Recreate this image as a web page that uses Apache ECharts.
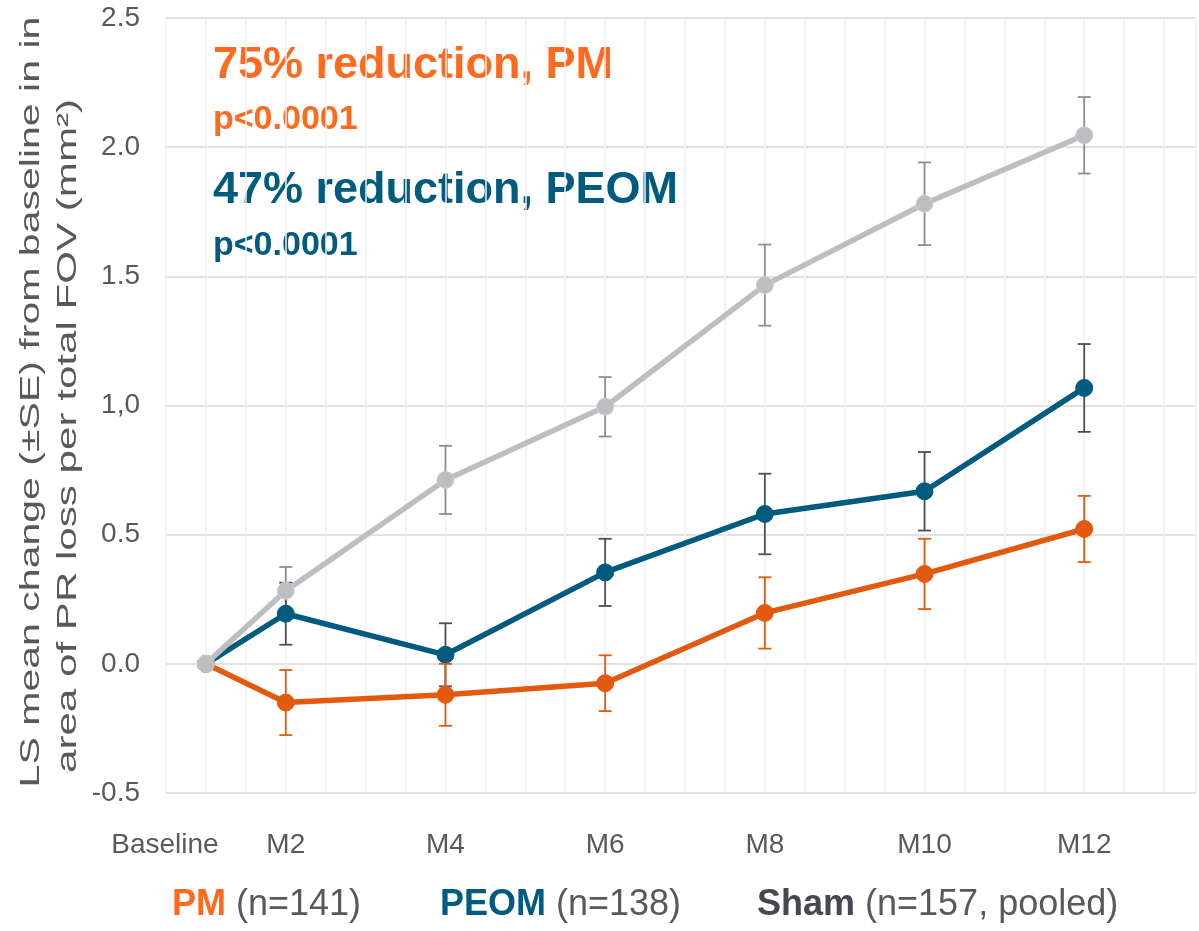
<!DOCTYPE html>
<html>
<head>
<meta charset="utf-8">
<script src="https://cdn.jsdelivr.net/npm/echarts@6/dist/echarts.min.js"></script>
<style>
  html, body { margin: 0; padding: 0; background: #fff; }
  #chart { width: 1199px; height: 931px; }
</style>
</head>
<body>
<div id="chart"></div>
<script>
// visits and where they sit on the x axis (baseline is one slot left of M2)
const visits = ['Baseline', 'M2', 'M4', 'M6', 'M8', 'M10', 'M12']
const visitSlot = [1, 2, 4, 6, 8, 10, 12]

// LS mean change and SE per group
const pmMean = [0, -0.15, -0.12, -0.075, 0.197, 0.348, 0.522]
const pmSE = [0, 0.126, 0.12, 0.108, 0.138, 0.136, 0.128]
const peomMean = [0, 0.194, 0.035, 0.354, 0.58, 0.668, 1.068]
const peomSE = [0, 0.12, 0.122, 0.13, 0.156, 0.152, 0.17]
const shamMean = [0, 0.283, 0.712, 0.995, 1.466, 1.781, 2.046]
const shamSE = [0, 0.092, 0.132, 0.115, 0.157, 0.16, 0.148]

const yTicks = { '-0.5': '-0.5', '0': '0.0', '0.5': '0.5', '1': '1,0', '1.5': '1.5', '2': '2.0', '2.5': '2.5' }

const ORANGE = '#e35a0e'
const ORANGE_TXT = '#ff6a1e'
const TEAL = '#005b7f'
const GREY = '#bcbec2'
const FONT = 'Liberation Sans, Arial, sans-serif'

function points(mean) {
  return visitSlot.map((x, i) => [x, mean[i]])
}

function errData(mean, se) {
  return visitSlot.map((x, i) => [x, mean[i] - se[i], mean[i] + se[i]]).slice(1)
}

function errSeries(mean, se, color, z) {
  return {
    type: 'custom',
    z: z,
    silent: true,
    data: errData(mean, se),
    renderItem(params, api) {
      const lo = api.coord([api.value(0), api.value(1)])
      const hi = api.coord([api.value(0), api.value(2)])
      const w = 6.5
      const style = { stroke: color, lineWidth: 1.8 }
      return {
        type: 'group',
        children: [
          { type: 'line', shape: { x1: hi[0], y1: hi[1], x2: lo[0], y2: lo[1] }, style },
          { type: 'line', shape: { x1: hi[0] - w, y1: hi[1], x2: hi[0] + w, y2: hi[1] }, style },
          { type: 'line', shape: { x1: lo[0] - w, y1: lo[1], x2: lo[0] + w, y2: lo[1] }, style }
        ]
      }
    }
  }
}

function lineSeries(name, mean, color, z, borderColor) {
  return {
    name: name,
    type: 'line',
    z: z,
    data: points(mean),
    symbol: 'circle',
    symbolSize: 17,
    lineStyle: { color: color, width: 5.5 },
    itemStyle: { color: color, borderColor: borderColor || color, borderWidth: 1 }
  }
}

function txt(x, y, text, fill, font) {
  return {
    type: 'text', x: x, y: y,
    style: { text: text, x: 0, y: 0, fill: fill, font: font, verticalAlign: 'middle' }
  }
}

function legendText(x, name, nText, nameColor) {
  return {
    type: 'text', x: x, y: 905,
    style: {
      text: '{a|' + name + '}{b| ' + nText + '}',
      verticalAlign: 'middle',
      rich: {
        a: { fill: nameColor, font: 'bold 36px ' + FONT },
        b: { fill: '#595959', font: '36px ' + FONT }
      }
    }
  }
}

const chart = echarts.init(document.getElementById('chart'))

const option = {
  animation: false,
  grid: { left: 166, right: 0, top: 18, bottom: 138 },
  xAxis: {
    type: 'value',
    min: 0.5,
    max: 13.4,
    interval: 0.5,
    axisLine: { show: false },
    axisTick: { show: false },
    splitLine: { show: true, lineStyle: { color: '#f0f0f0', width: 1.5 } },
    axisLabel: {
      margin: 38,
      color: '#595959',
      fontFamily: FONT,
      fontSize: 28,
      rich: {
        base: { color: '#595959', fontFamily: FONT, fontSize: 28, padding: [0, 82, 0, 0] }
      },
      formatter(v) {
        const i = visitSlot.indexOf(v)
        if (i < 0) return ''
        return i === 0 ? '{base|' + visits[0] + '}' : visits[i]
      }
    }
  },
  yAxis: {
    type: 'value',
    min: -0.5,
    max: 2.5,
    interval: 0.5,
    axisLine: { show: false },
    axisTick: { show: false },
    splitLine: { show: true, lineStyle: { color: '#e2e2e2', width: 2 } },
    axisLabel: {
      margin: 26,
      color: '#595959',
      fontFamily: FONT,
      fontSize: 28,
      formatter(v) {
        return yTicks[String(v)] || ''
      }
    }
  },
  series: [
    errSeries(shamMean, shamSE, '#8a8f99', 2),
    errSeries(peomMean, peomSE, '#4b5057', 4),
    errSeries(pmMean, pmSE, ORANGE, 6),
    lineSeries('PM', pmMean, ORANGE, 7),
    lineSeries('PEOM', peomMean, TEAL, 5),
    lineSeries('Sham', shamMean, GREY, 8, '#d0d0d0')
  ],
  graphic: [
    {
      type: 'text', x: 32, y: 402, rotation: Math.PI / 2, scaleX: 1.52,
      style: {
        text: 'LS mean change (±SE) from baseline in in',
        x: 0, y: 0, fill: '#595959', font: '27px ' + FONT,
        align: 'center', verticalAlign: 'middle'
      }
    },
    {
      type: 'text', x: 69, y: 436, rotation: Math.PI / 2, scaleX: 1.56,
      style: {
        text: 'area of PR loss per total FOV (mm²)',
        x: 0, y: 0, fill: '#595959', font: '27px ' + FONT,
        align: 'center', verticalAlign: 'middle'
      }
    },
    txt(213, 66, '75% reduction, PM', ORANGE_TXT, 'bold 45px ' + FONT),
    txt(213, 120, 'p<0.0001', ORANGE_TXT, 'bold 34px ' + FONT),
    txt(213, 191, '47% reduction, PEOM', TEAL, 'bold 45px ' + FONT),
    txt(213, 246, 'p<0.0001', TEAL, 'bold 34px ' + FONT),
    legendText(172, 'PM', '(n=141)', ORANGE_TXT),
    legendText(440, 'PEOM', '(n=138)', TEAL),
    legendText(757, 'Sham', '(n=157, pooled)', '#45484d')
  ]
}

chart.setOption(option)
</script>
</body>
</html>
